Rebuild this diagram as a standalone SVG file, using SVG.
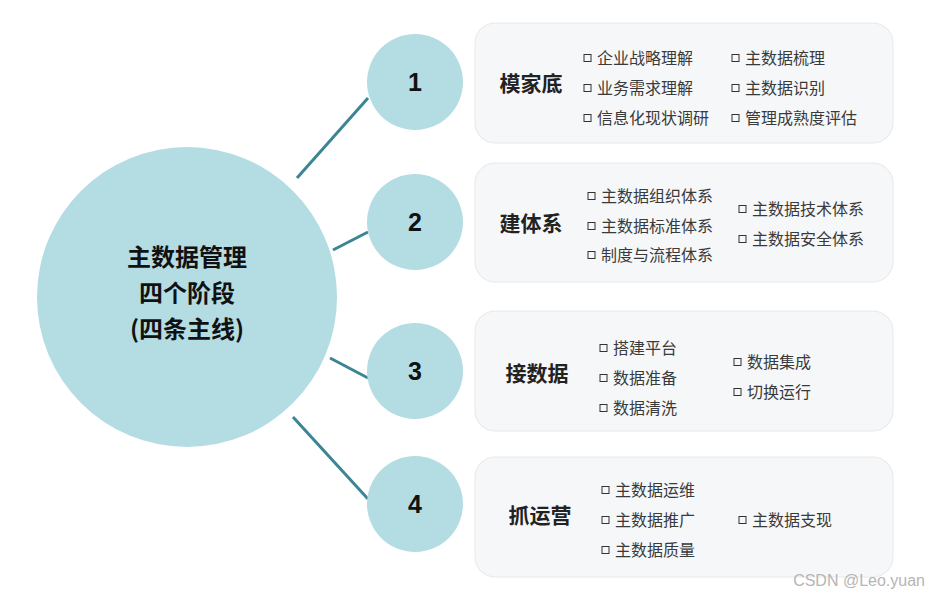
<svg xmlns="http://www.w3.org/2000/svg" width="930" height="596" viewBox="0 0 930 596">
<style>
.circ{fill:#b4dce3}
.box{fill:#f6f7f9;stroke:#e6e8eb;stroke-width:1}
.num{font-family:"Liberation Sans",Arial,sans-serif;font-weight:bold;font-size:25px;fill:#111;text-anchor:middle}
.lbl{font-family:"Noto Sans CJK SC","Liberation Sans",sans-serif;font-weight:bold;font-size:21px;fill:#222;text-anchor:middle}
.ctr{font-family:"Noto Sans CJK SC","Liberation Sans",sans-serif;font-weight:bold;font-size:24px;fill:#111;text-anchor:middle}
.it{font-family:"Noto Sans CJK SC","Liberation Sans",sans-serif;font-size:16px;fill:#3a3a3a}
.bl{fill:none;stroke:#333;stroke-width:1}
.con{stroke:#3b8594;stroke-width:3;fill:none}
</style>
<defs><rect id="b" class="bl" x="0" y="-3.5" width="7" height="7"/></defs>
<rect width="930" height="596" fill="#fff"/>
<g id="connectors">
<line class="con" x1="297" y1="178" x2="368" y2="98"/>
<line class="con" x1="333" y1="250" x2="368" y2="232"/>
<line class="con" x1="330" y1="358" x2="368" y2="378"/>
<line class="con" x1="293" y1="417" x2="368" y2="499"/>
</g>
<g id="center">
<circle class="circ" cx="187" cy="297" r="150"/>
<text class="ctr" x="187" y="266">主数据管理</text>
<text class="ctr" x="187" y="302">四个阶段</text>
<text class="ctr" x="187" y="338">(四条主线)</text>
</g>
<g id="n1">
<circle class="circ" cx="415" cy="82" r="48"/>
<text class="num" x="415" y="91">1</text>
</g>
<g id="n2">
<circle class="circ" cx="415" cy="222" r="48"/>
<text class="num" x="415" y="231">2</text>
</g>
<g id="n3">
<circle class="circ" cx="415" cy="371" r="48"/>
<text class="num" x="415" y="380">3</text>
</g>
<g id="n4">
<circle class="circ" cx="415" cy="504" r="48"/>
<text class="num" x="415" y="513">4</text>
</g>
<g id="box1">
<rect class="box" x="475" y="23" width="418" height="120" rx="20"/>
<text class="lbl" x="531" y="91">模家底</text>
<use href="#b" x="584" y="58"/><text class="it" x="597" y="63.5">企业战略理解</text>
<use href="#b" x="584" y="88"/><text class="it" x="597" y="93.5">业务需求理解</text>
<use href="#b" x="584" y="118"/><text class="it" x="597" y="123.5">信息化现状调研</text>
<use href="#b" x="732" y="58"/><text class="it" x="745" y="63.5">主数据梳理</text>
<use href="#b" x="732" y="88"/><text class="it" x="745" y="93.5">主数据识别</text>
<use href="#b" x="732" y="118"/><text class="it" x="745" y="123.5">管理成熟度评估</text>
</g>
<g id="box2">
<rect class="box" x="475" y="163" width="418" height="119" rx="20"/>
<text class="lbl" x="531" y="231">建体系</text>
<use href="#b" x="588" y="196"/><text class="it" x="601" y="201.5">主数据组织体系</text>
<use href="#b" x="588" y="226"/><text class="it" x="601" y="231.5">主数据标准体系</text>
<use href="#b" x="588" y="255"/><text class="it" x="601" y="260.5">制度与流程体系</text>
<use href="#b" x="739" y="209"/><text class="it" x="752" y="214.5">主数据技术体系</text>
<use href="#b" x="739" y="239"/><text class="it" x="752" y="244.5">主数据安全体系</text>
</g>
<g id="box3">
<rect class="box" x="475" y="311" width="418" height="120" rx="20"/>
<text class="lbl" x="537" y="381">接数据</text>
<use href="#b" x="600" y="348"/><text class="it" x="613" y="353.5">搭建平台</text>
<use href="#b" x="600" y="378"/><text class="it" x="613" y="383.5">数据准备</text>
<use href="#b" x="600" y="408"/><text class="it" x="613" y="413.5">数据清洗</text>
<use href="#b" x="734" y="362"/><text class="it" x="747" y="367.5">数据集成</text>
<use href="#b" x="734" y="392"/><text class="it" x="747" y="397.5">切换运行</text>
</g>
<g id="box4">
<rect class="box" x="475" y="457" width="418" height="120" rx="20"/>
<text class="lbl" x="540" y="523">抓运营</text>
<use href="#b" x="602" y="490"/><text class="it" x="615" y="495.5">主数据运维</text>
<use href="#b" x="602" y="520"/><text class="it" x="615" y="525.5">主数据推广</text>
<use href="#b" x="602" y="550"/><text class="it" x="615" y="555.5">主数据质量</text>
<use href="#b" x="739" y="520"/><text class="it" x="752" y="525.5">主数据支现</text>
</g>
<text x="925" y="586" text-anchor="end" font-family="Liberation Sans,Arial,sans-serif" font-size="16" fill="#b5b5b5">CSDN @Leo.yuan</text>
</svg>
